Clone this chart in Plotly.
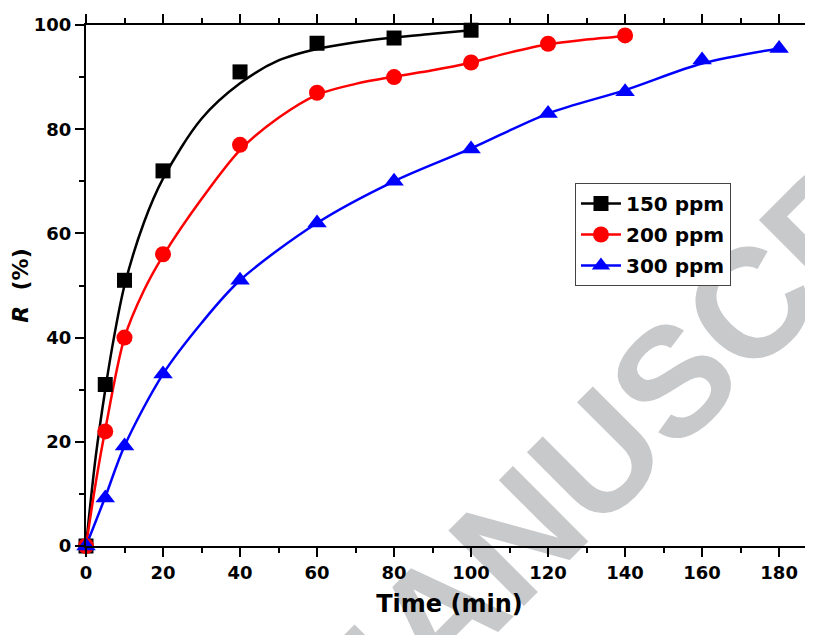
import plotly.graph_objects as go

# ---- Data ----
t150 = [0, 5, 10, 20, 40, 60, 80, 100]
r150 = [0, 31, 51, 72, 91, 96.5, 97.5, 99]

t200 = [0, 5, 10, 20, 40, 60, 80, 100, 120, 140]
r200 = [0, 22, 40, 56, 77, 87, 90, 92.8, 96.4, 98]

t300 = [0, 5, 10, 20, 40, 60, 80, 100, 120, 140, 160, 180]
r300 = [0, 9.2, 19.2, 33, 51, 62, 70, 76.2, 83, 87.2, 93.3, 95.5]

# fitted curves
fit150_t = [0, 2.5, 5, 7.5, 10, 15, 20, 30, 40, 50, 60, 70, 80, 90, 100]
fit150_r = [0, 17, 30, 41, 50, 62, 70.5, 82, 88.8, 93.2, 95.4, 96.7, 97.6, 98.3, 99]

fit200_t = [0, 2.5, 5, 10, 15, 20, 30, 40, 50, 60, 70, 80, 90, 100, 110, 120, 130, 140]
fit200_r = [0, 12, 22.3, 40, 49, 55.7, 66.6, 76, 82.2, 86.6, 88.7, 90.1, 91.3, 92.8, 94.7, 96.3, 97.2, 97.9]

fit300_t = [0, 5, 10, 20, 30, 40, 60, 80, 100, 120, 140, 160, 180]
fit300_r = [0, 9.4, 19.2, 33, 42.8, 51, 62, 70, 76.3, 83, 87.5, 92.6, 95.5]

series_names = ["150 ppm", "200 ppm", "300 ppm"]
series_colors = ["#000000", "#ff0000", "#0000ff"]
series_symbols = ["square", "circle", "triangle-up"]
series_sizes = [15, 16, 17]

x_ticks = [0, 20, 40, 60, 80, 100, 120, 140, 160, 180]
y_ticks = [0, 20, 40, 60, 80, 100]

FONT = "DejaVu Sans"

fig = go.Figure()
points = [(t150, r150), (t200, r200), (t300, r300)]
fits = [(fit150_t, fit150_r), (fit200_t, fit200_r), (fit300_t, fit300_r)]
for i in range(3):
    fx, fy = fits[i]
    fig.add_trace(go.Scatter(
        x=fx, y=fy, mode="lines", showlegend=False, hoverinfo="skip",
        line=dict(color=series_colors[i], width=2.5, shape="spline", smoothing=0.9),
    ))
for i in range(3):
    px_, py_ = points[i]
    fig.add_trace(go.Scatter(
        x=px_, y=py_, mode="markers", showlegend=False, name=series_names[i],
        marker=dict(symbol=series_symbols[i], size=series_sizes[i], color=series_colors[i],
                    line=dict(width=0)),
        cliponaxis=False,
    ))
for i in range(3):
    fig.add_trace(go.Scatter(
        x=[None], y=[None], mode="lines+markers", name=series_names[i],
        legendgroup=f"g{i}",
        line=dict(color=series_colors[i], width=2.5),
        marker=dict(symbol=series_symbols[i], size=series_sizes[i], color=series_colors[i],
                    line=dict(width=0)),
    ))

# watermark, drawn beneath everything
fig.add_shape(
    type="line", xref="paper", yref="paper", layer="below",
    x0=0.5186, y0=-0.0461, x1=1.0688, y1=0.7217,
    line=dict(color="rgba(0,0,0,0)", width=0),
    label=dict(text="MANUSCRIPT", textangle=-45, textposition="middle",
               xanchor="center", yanchor="middle",
               font=dict(family="Liberation Sans", size=155, color="#c8c9cb", weight="bold")),
)

axis_common = dict(
    showline=True, linecolor="black", linewidth=2,
    ticks="outside", ticklen=9, tickwidth=2, tickcolor="black",
    showgrid=False, zeroline=False, automargin=False,
    tickfont=dict(family=FONT, size=18, color="black", weight="bold"),
)

fig.update_xaxes(
    range=[0, 188.8], tickmode="array", tickvals=x_ticks, ticktext=[str(v) for v in x_ticks],
    mirror="ticks",
    minor=dict(ticks="outside", ticklen=5, tickwidth=2, tickcolor="black", dtick=10, tick0=0, showgrid=False),
    title=dict(text="<b>Time (min)</b>", font=dict(family=FONT, size=24, color="black"), standoff=14),
    **axis_common,
)
fig.update_yaxes(
    range=[0, 100], tickmode="array", tickvals=y_ticks, ticktext=[str(v) for v in y_ticks],
    mirror=False,
    minor=dict(ticks="outside", ticklen=5, tickwidth=2, tickcolor="black", dtick=10, tick0=0, showgrid=False),
    title=dict(text="<b><i>R</i>  (%)</b>", font=dict(family=FONT, size=22, color="black"), standoff=12),
    **axis_common,
)

# the page body adds an 8 px offset; size the figure so the plot area lands where the reference has it
fig.update_layout(
    width=805, height=627,
    margin=dict(l=78, r=0, t=17, b=89, autoexpand=False),
    plot_bgcolor="white", paper_bgcolor="white",
    showlegend=True,
    legend=dict(
        x=0.6726, y=0.6967, xanchor="left", yanchor="top",
        bgcolor="white", bordercolor="#444444", borderwidth=1,
        font=dict(family=FONT, size=20, color="black", weight="bold"),
        tracegroupgap=2, itemwidth=40,
    ),
)

fig.write_html("out.html")
